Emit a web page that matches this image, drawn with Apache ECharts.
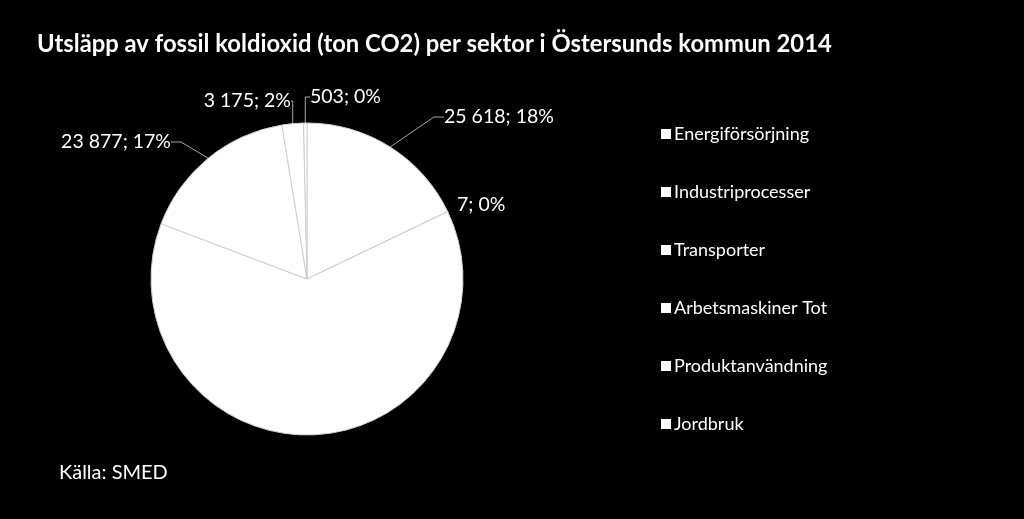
<!DOCTYPE html>
<html><head><meta charset="utf-8">
<script src="https://cdn.jsdelivr.net/npm/echarts@6/dist/echarts.min.js"></script>
<style>html,body{margin:0;padding:0;background:#000}#c{width:1024px;height:519px}</style>
</head><body><div id="c"></div>
<script>
const categories = ['Energiförsörjning','Industriprocesser','Transporter','Arbetsmaskiner Tot','Produktanvändning','Jordbruk'];
const values = [25618, 7, 90000, 23877, 3175, 503];
const titleText = 'Utsläpp av fossil koldioxid (ton CO2) per sektor i Östersunds kommun 2014';
const sourceText = 'Källa: SMED';

const FONT = 'Lato, "Open Sans", sans-serif';
const total = values.reduce((a,b)=>a+b,0);
function fmt(n){return String(n).replace(/\B(?=(\d{3})+(?!\d))/g,' ');}

const labelPos = {
  0:{x:444,y:117,align:'left'},
  1:{x:457,y:205,align:'left'},
  3:{x:171,y:142,align:'right'},
  4:{x:291,y:101,align:'right'},
  5:{x:310,y:97,align:'left'}
};

const chart = echarts.init(document.getElementById('c'));
chart.setOption({
  backgroundColor:'#000',
  animation:false,
  title:[
    {text:titleText,left:32,top:27,textStyle:{color:'#fff',fontFamily:FONT,fontWeight:'bold',fontSize:23.8}},
    {text:sourceText,left:54,top:458,textStyle:{color:'#fff',fontFamily:FONT,fontWeight:'normal',fontSize:20}}
  ],
  legend:{
    orient:'vertical',left:656,top:120,itemGap:40,itemWidth:10,itemHeight:10,icon:'rect',
    itemStyle:{borderWidth:0},
    textStyle:{color:'#fff',fontFamily:FONT,fontSize:18,padding:[0,0,0,-2]},
    data:categories
  },
  series:[{
    type:'pie',center:[307,279],radius:156,startAngle:90,clockwise:true,
    avoidLabelOverlap:false,
    itemStyle:{color:'#fff',borderColor:'#d0d0d0',borderWidth:1},
    label:{show:true,position:'outside',color:'#fff',fontFamily:FONT,fontSize:19.5,
      formatter:p=>fmt(p.value)+'; '+Math.round(p.value/total*100)+'%'},
    labelLine:{show:true,length:10,length2:10,lineStyle:{color:'#a6a6a6',width:1}},
    labelLayout:function(p){const o=labelPos[p.dataIndex];if(!o)return {};return {x:o.x,y:o.y,align:o.align,verticalAlign:'middle'};},
    emphasis:{disabled:true},
    data:categories.map((c,i)=>{
      const d={name:c,value:values[i]};
      if(i===2){d.label={show:false};d.labelLine={show:false};}
      if(i===1){d.labelLine={show:false};}
      return d;
    })
  }]
});
</script></body></html>
